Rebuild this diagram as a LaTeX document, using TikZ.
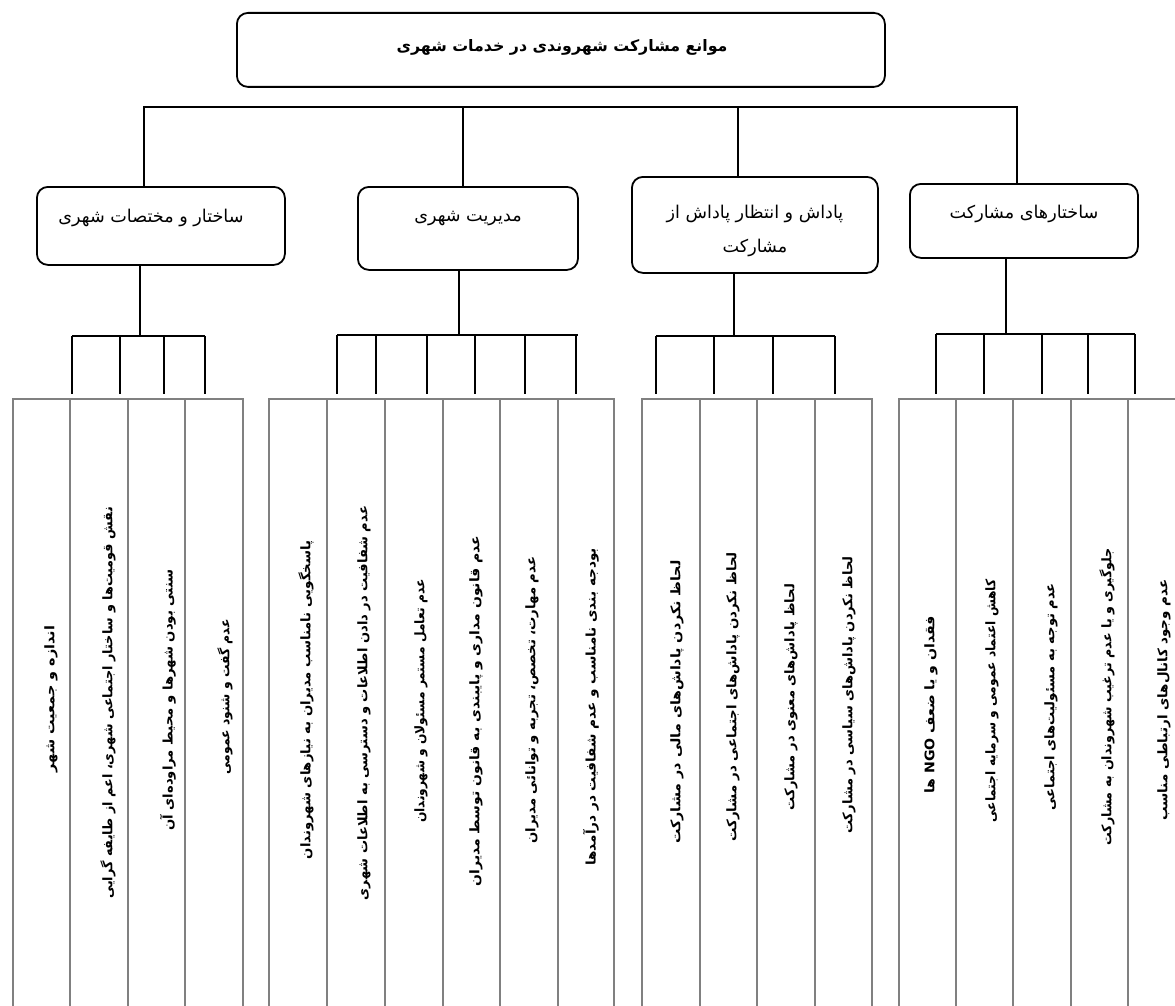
\documentclass[tikz,border=0pt]{standalone}
\usepackage{fontspec}
\newfontfamily\fa[Script=Arabic]{DejaVu Sans}
\TeXXeTstate=1
\begin{document}
\begin{tikzpicture}[x=1pt,y=-1pt,
  conn/.style={line width=1.6pt,black},
  hbox/.style={draw,line width=1.8pt,rounded corners=11pt,anchor=north west,inner sep=0pt},
  htext/.style={font=\fa\fontsize{17.6}{22}\selectfont,inner sep=0pt,align=center},
  leaf/.style={draw=black!50,line width=1.8pt,anchor=north west,inner sep=0pt,minimum width=#1,minimum height=620pt},
  leaf/.default=57pt,
  ltext/.style={font=\fa\bfseries\fontsize{13.2}{15}\selectfont,rotate=90,inner sep=0pt}]
\useasboundingbox (0,0) rectangle (1175,1006);
\fill[white] (0,0) rectangle (1175,1006);
\clip (0,0) rectangle (1175,1006);
% top box
\node[hbox,minimum width=648pt,minimum height=74pt] (top) at (236,12) {};
\node[htext,font=\fa\bfseries\fontsize{15.8}{19}\selectfont] (topt) at (562,47) {\beginR موانع مشارکت شهروندی در خدمات شهری\endR};
% headings
\node[hbox,minimum width=248pt,minimum height=78pt] (h1) at (36,186) {};
\node[htext] (h1t) at (151,218) {\beginR ساختار و مختصات شهری\endR};
\node[hbox,minimum width=220pt,minimum height=83pt] (h2) at (357,186) {};
\node[htext] (h2t) at (468,218) {\beginR مدیریت شهری\endR};
\node[hbox,minimum width=246pt,minimum height=96pt] (h3) at (631,176) {};
\node[htext] (h3t) at (755,231) {\beginR پاداش و انتظار پاداش از\endR\\[12pt]\beginR مشارکت\endR};
\node[hbox,minimum width=228pt,minimum height=74pt] (h4) at (909,183) {};
\node[htext] (h4t) at (1024,214) {\beginR ساختارهای مشارکت\endR};
% main bus
\coordinate (busL) at (144,107);
\coordinate (bus2) at (463,107);
\coordinate (bus3) at (738,107);
\coordinate (busR) at (1017,107);
\draw[conn] (h1.north -| busL) -- (busL) -- (busR) -- (h4.north -| busR);
\draw[conn] (bus2) -- (h2.north -| bus2);
\draw[conn] (bus3) -- (h3.north -| bus3);
% leaves group 1
\node[leaf=57pt] (a1) at (12,398) {};
\node[leaf=58pt] (a2) at (69,398) {};
\node[leaf=57pt] (a3) at (127,398) {};
\node[leaf=58pt] (a4) at (184,398) {};
% group 2
\node[leaf=58pt] (b1) at (268,398) {};
\node[leaf=58pt] (b2) at (326,398) {};
\node[leaf=58pt] (b3) at (384,398) {};
\node[leaf=57pt] (b4) at (442,398) {};
\node[leaf=58pt] (b5) at (499,398) {};
\node[leaf=56pt] (b6) at (557,398) {};
% group 3
\node[leaf=58pt] (c1) at (641,398) {};
\node[leaf=57pt] (c2) at (699,398) {};
\node[leaf=58pt] (c3) at (756,398) {};
\node[leaf=57pt] (c4) at (814,398) {};
% group 4
\node[leaf=57pt] (d1) at (898,398) {};
\node[leaf=57pt] (d2) at (955,398) {};
\node[leaf=58pt] (d3) at (1012,398) {};
\node[leaf=57pt] (d4) at (1070,398) {};
\node[leaf=58pt] (d5) at (1127,398) {};
% sub buses
\coordinate (s1) at (140,336);
\coordinate (s1L) at (72,336);
\coordinate (s1R) at (205,336);
\draw[conn] (h1.south -| s1) -- (s1);
\draw[conn] (s1L) -- (s1R);
\foreach \x [count=\i] in {72,120,164,205} {
  \coordinate (p1\i) at (\x,336);
  \draw[conn] (p1\i) -- ([yshift=4pt]p1\i |- a1.north);
}
\coordinate (s2) at (459,335);
\coordinate (s2L) at (337,335);
\coordinate (s2R) at (578,335);
\draw[conn] (h2.south -| s2) -- (s2);
\draw[conn] (s2L) -- (s2R);
\foreach \x [count=\i] in {337,376,427,475,525,576} {
  \coordinate (p2\i) at (\x,335);
  \draw[conn] (p2\i) -- ([yshift=4pt]p2\i |- b1.north);
}
\coordinate (s3) at (734,336);
\coordinate (s3L) at (656,336);
\coordinate (s3R) at (835,336);
\draw[conn] (h3.south -| s3) -- (s3);
\draw[conn] (s3L) -- (s3R);
\foreach \x [count=\i] in {656,714,773,835} {
  \coordinate (p3\i) at (\x,336);
  \draw[conn] (p3\i) -- ([yshift=4pt]p3\i |- c1.north);
}
\coordinate (s4) at (1006,334);
\coordinate (s4L) at (936,334);
\coordinate (s4R) at (1135,334);
\draw[conn] (h4.south -| s4) -- (s4);
\draw[conn] (s4L) -- (s4R);
\foreach \x [count=\i] in {936,984,1042,1088,1135} {
  \coordinate (p4\i) at (\x,334);
  \draw[conn] (p4\i) -- ([yshift=4pt]p4\i |- d1.north);
}
% leaf texts
\node[ltext] (a1t) at (51,699) {\scalebox{1.09}[1]{\beginR اندازه و جمعیت شهر\endR}};
\node[ltext] (a2t) at (108,703) {\scalebox{0.97}[1]{\beginR نقش قومیت‌ها و ساختار اجتماعی شهری، اعم از طایفه گرایی\endR}};
\node[ltext] (a3t) at (168,700) {\scalebox{1.0}[1]{\beginR سنتی بودن شهرها و محیط مراوده‌ای آن\endR}};
\node[ltext] (a4t) at (225,697) {\scalebox{0.94}[1]{\beginR عدم گفت و شنود عمومی\endR}};
\node[ltext] (b1t) at (306,700) {\scalebox{1.0}[1]{\beginR پاسخگویی نامناسب مدیران به نیازهای شهروندان\endR}};
\node[ltext] (b2t) at (364,703) {\scalebox{0.99}[1]{\beginR عدم شفافیت در دادن اطلاعات و دسترسی به اطلاعات شهری\endR}};
\node[ltext] (b3t) at (421,701) {\scalebox{0.93}[1]{\beginR عدم تعامل مستمر مسئولان و شهروندان\endR}};
\node[ltext] (b4t) at (476,711) {\scalebox{1.06}[1]{\beginR عدم قانون مداری و پایبندی به قانون توسط مدیران\endR}};
\node[ltext] (b5t) at (532,700) {\scalebox{1.0}[1]{\beginR عدم مهارت، تخصص، تجربه و توانائی مدیران\endR}};
\node[ltext] (b6t) at (591,707) {\scalebox{1.03}[1]{\beginR بودجه بندی نامناسب و عدم شفافیت در درآمدها\endR}};
\node[ltext] (c1t) at (677,702) {\scalebox{1.08}[1]{\beginR لحاظ نکردن پاداش‌های مالی در مشارکت\endR}};
\node[ltext] (c2t) at (733,697) {\scalebox{1.01}[1]{\beginR لحاظ نکردن پاداش‌های اجتماعی در مشارکت\endR}};
\node[ltext] (c3t) at (791,697) {\scalebox{0.99}[1]{\beginR لحاظ پاداش‌های معنوی در مشارکت\endR}};
\node[ltext] (c4t) at (849,695) {\scalebox{0.99}[1]{\beginR لحاظ نکردن پاداش‌های سیاسی در مشارکت\endR}};
\node[ltext] (d1t) at (931,705) {\scalebox{1.07}[1]{\beginR فقدان و یا ضعف \beginL NGO\endL{} ها\endR}};
\node[ltext] (d2t) at (992,701) {\scalebox{0.93}[1]{\beginR کاهش اعتماد عمومی و سرمایه اجتماعی\endR}};
\node[ltext] (d3t) at (1051,697) {\scalebox{0.99}[1]{\beginR عدم توجه به مسئولیت‌های اجتماعی\endR}};
\node[ltext] (d4t) at (1107,697) {\scalebox{0.96}[1]{\beginR جلوگیری و یا عدم ترغیب شهروندان به مشارکت\endR}};
\node[ltext] (d5t) at (1164,700) {\scalebox{1.02}[1]{\beginR عدم وجود کانال‌های ارتباطی مناسب\endR}};
\end{tikzpicture}
\end{document}
